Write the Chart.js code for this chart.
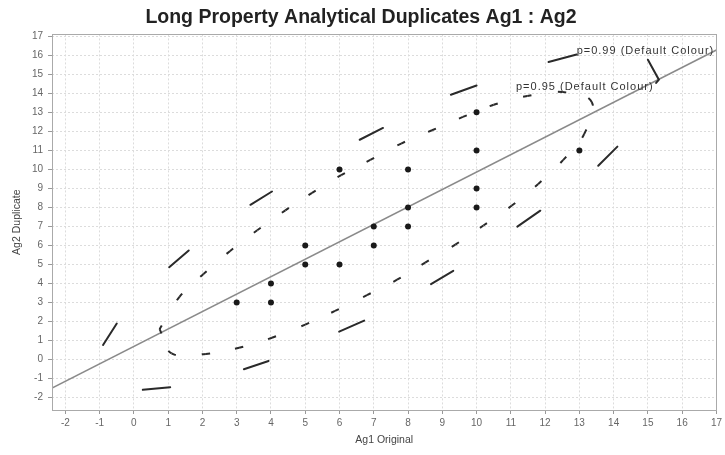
<!DOCTYPE html>
<html>
<head>
<meta charset="utf-8">
<script src="https://cdn.jsdelivr.net/npm/chart.js@4/dist/chart.umd.min.js"></script>
<style>
html, body { margin: 0; padding: 0; background: #fff; }
</style>
</head>
<body>
<canvas id="chart" width="725" height="455"></canvas>
<script>
// duplicate pairs (Ag1 original vs Ag2 duplicate)
const ptX = [3, 4, 4, 5, 5, 6, 6, 7, 7, 8, 8, 8, 10, 10, 10, 10, 13];
const ptY = [3, 4, 3, 6, 5, 10, 5, 7, 6, 10, 8, 7, 13, 11, 9, 8, 11];

// fitted line, end points
const lineX = [-2.39, 17];
const lineY = [-1.5, 16.28];

// p=0.95 ellipse: centres of the dashes, in drawing order (closed)
const innerX = [0.75, 1.33, 2.03, 2.8, 3.6, 4.42, 5.2, 6.05, 6.9, 7.8, 8.7, 9.6, 10.5, 11.48, 12.5, 13.36, 13.14, 12.53, 11.8, 11.03, 10.2, 9.38, 8.5, 7.68, 6.8, 5.87, 5.0, 4.03, 3.07, 2.1, 1.1, 0.75];
const innerY = [1.6, 3.3, 4.5, 5.7, 6.8, 7.85, 8.77, 9.7, 10.5, 11.36, 12.06, 12.76, 13.4, 13.86, 14.07, 13.55, 11.86, 10.5, 9.24, 8.1, 7.05, 6.05, 5.1, 4.2, 3.39, 2.56, 1.84, 1.15, 0.62, 0.3, 0.33, 1.6];

// p=0.99 ellipse: the visible dashes, end to end, null between dashes
const outerX = [-0.9, -0.5, null, 1.03, 1.6, null, 3.4, 4.03, null, 6.59, 7.27, null, 9.25, 10.0, null, 12.1, 12.92, null, 15.0, 15.32, 15.24, null, 14.11, 13.55, null, 11.86, 11.19, null, 9.32, 8.67, null, 6.72, 5.99, null, 3.93, 3.21, null, 1.06, 0.26];
const outerY = [0.77, 1.9, null, 4.86, 5.74, null, 8.14, 8.84, null, 11.56, 12.18, null, 13.93, 14.41, null, 15.65, 16.04, null, 15.77, 14.72, 14.55, null, 11.2, 10.19, null, 7.83, 6.99, null, 4.67, 3.97, null, 2.05, 1.47, null, -0.07, -0.51, null, -1.45, -1.59];

const noteText = ['p=0.99 (Default Colour)', 'p=0.95 (Default Colour)'];
const noteX = [12.92, 11.15];
const noteY = [16.25, 14.35];

const FONT = '"Liberation Sans", Arial, sans-serif';

function pairs(xs, ys){ return xs.map((x, i) => ({ x, y: ys[i] })); }

// one dash centred on every vertex: half at the start and half at the end of each segment
function dashAtVertices(len){
  const h = len / 2;
  return {
    borderDash: c => {
      const L = Math.hypot(c.p1.x - c.p0.x, c.p1.y - c.p0.y);
      return [h, Math.max(L - 2 * h, 0.1), h + 20, 10000];
    },
    // alternate so each segment gets stroked on its own
    borderDashOffset: c => (c.p0DataIndex % 2) * 0.001
  };
}

const boxPlugin = {
  id: 'box',
  afterDraw(chart){
    const { ctx, chartArea: a } = chart;
    ctx.save();
    ctx.strokeStyle = '#aaa';
    ctx.lineWidth = 1;
    ctx.strokeRect(Math.round(a.left) + 0.5, Math.round(a.top) + 0.5, Math.round(a.right - a.left), Math.round(a.bottom - a.top));
    ctx.restore();
  }
};

const notesPlugin = {
  id: 'notes',
  afterDatasetsDraw(chart){
    const { ctx, scales: { x, y } } = chart;
    ctx.save();
    ctx.font = '11px ' + FONT;
    ctx.fillStyle = '#333';
    ctx.textBaseline = 'middle';
    if ('letterSpacing' in ctx) ctx.letterSpacing = '1px';
    noteText.forEach((t, i) => {
      ctx.fillText(t, x.getPixelForValue(noteX[i]), y.getPixelForValue(noteY[i]));
    });
    ctx.restore();
  }
};

const gridOpts = {
  color: '#dcdcdc',
  borderDash: [2, 2],
  tickColor: '#999',
  tickLength: 4,
  tickBorderDash: []
};

new Chart(document.getElementById('chart'), {
  type: 'scatter',
  data: {
    datasets: [
      { data: pairs(ptX, ptY), pointRadius: 3, pointBackgroundColor: '#1a1a1a', pointBorderWidth: 0, showLine: false, order: 0 },
      { data: pairs(lineX, lineY), showLine: true, pointRadius: 0, borderColor: '#8a8a8a', borderWidth: 1.5, order: 3 },
      { data: pairs(innerX, innerY), showLine: true, pointRadius: 0, borderColor: '#2a2a2a', borderWidth: 2, tension: 0.4, segment: dashAtVertices(8), order: 2 },
      { data: pairs(outerX, outerY), showLine: true, spanGaps: false, pointRadius: 0, borderColor: '#2a2a2a', borderWidth: 2, borderCapStyle: 'round', tension: 0, order: 1 }
    ]
  },
  options: {
    responsive: false,
    animation: false,
    layout: { padding: { left: 0, right: 3, top: 0, bottom: 0 } },
    plugins: {
      legend: { display: false },
      tooltip: { enabled: false },
      title: {
        display: true,
        text: 'Long Property Analytical Duplicates Ag1 : Ag2',
        color: '#222',
        font: { family: FONT, size: 19.5, weight: 'bold' },
        padding: { top: 6, bottom: 5 }
      }
    },
    scales: {
      x: {
        type: 'linear',
        min: -2.39,
        max: 17,
        ticks: { stepSize: 1, includeBounds: false, autoSkip: false, maxRotation: 0, color: '#666', font: { family: FONT, size: 10 }, padding: 3 },
        grid: gridOpts,
        border: { display: false, dash: [2, 2] },
        title: { display: true, text: 'Ag1 Original', color: '#444', font: { family: FONT, size: 10.5 }, padding: { top: 0, bottom: 9 } },
        afterFit(s){ s.height = 45; }
      },
      y: {
        type: 'linear',
        min: -2.65,
        max: 17.1,
        ticks: { stepSize: 1, includeBounds: false, autoSkip: false, color: '#666', font: { family: FONT, size: 10 }, padding: 5 },
        grid: gridOpts,
        border: { display: false, dash: [2, 2] },
        title: { display: true, text: 'Ag2 Duplicate', color: '#444', font: { family: FONT, size: 10.5 }, padding: { top: 11, bottom: 0 } },
        afterFit(s){ s.width = 52; }
      }
    }
  },
  plugins: [boxPlugin, notesPlugin]
});
</script>
</body>
</html>
